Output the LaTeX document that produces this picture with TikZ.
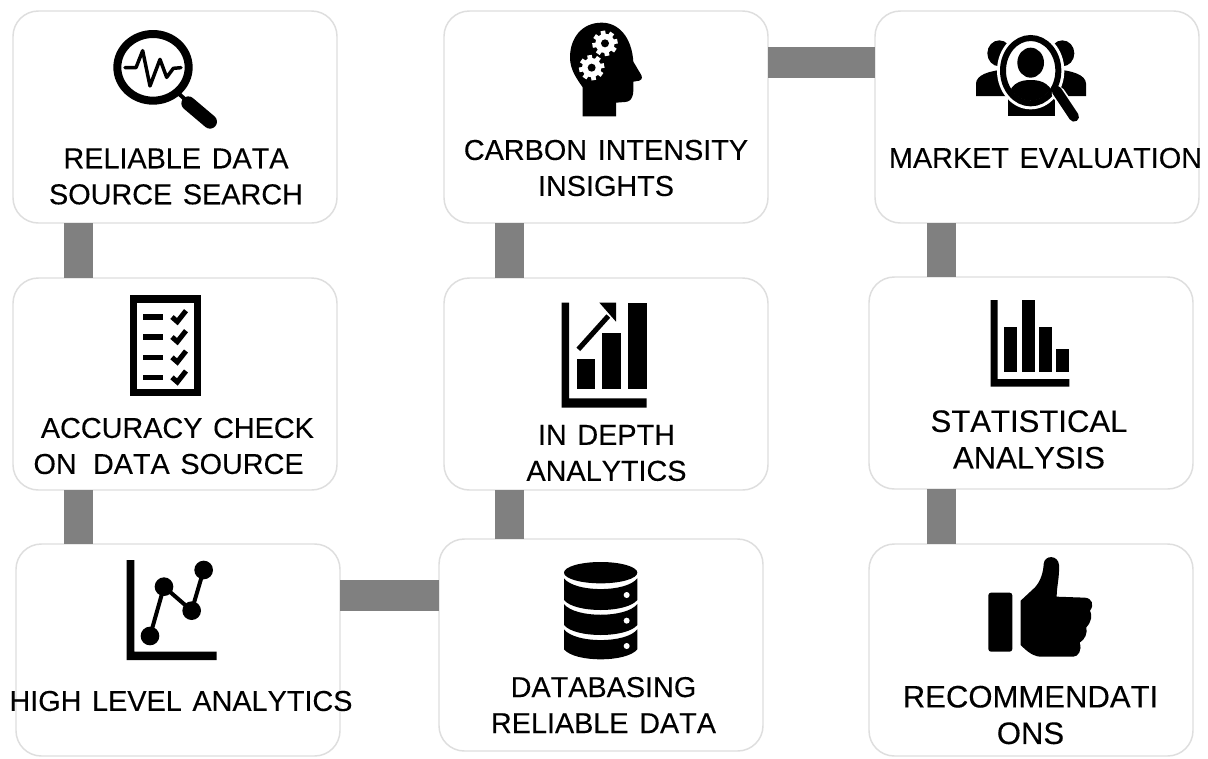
\documentclass[tikz,border=0pt]{standalone}
\usepackage{fontspec}
\setmainfont{Liberation Sans}
\newfontfamily\lblfam[Kerning=Off,FakeBold=0.2]{Liberation Sans}
\newcommand\lblfont{\lblfam\fontsize{21.6}{27}\selectfont\spaceskip=0.37em\relax}
\newcommand\lblbig{\lblfam\fontsize{23.3}{27.4}\selectfont\spaceskip=0.37em\relax}
\newcommand\gearicon[2]{%
  \foreach \a in {0,45,90,135} {\fill[white,rotate around={\a+10:(#1,#2)}] (#1-7,#2-38) rectangle (#1+7,#2+38);}
  \fill[white] (#1,#2) circle[radius=29];
  \fill[black] (#1,#2) circle[radius=12];}
\tikzset{
  box/.style={draw=boxline,line width=1.1pt,fill=white,rounded corners=19pt,minimum width=243pt,minimum height=159pt,inner sep=0pt,outer sep=0pt},
  lbl/.style={font=\lblfont,text=black,align=center,inner sep=0pt},
  lblb/.style={font=\lblbig,text=black,align=center,inner sep=0pt},
  conn/.style={draw=connc,line width=21.75pt,line cap=butt},
  connh/.style={draw=connc,line width=23.25pt,line cap=butt},
  icon/.style 2 args={shift={(#1,#2)},x=0.25pt,y=-0.25pt},
}
\definecolor{boxline}{HTML}{DEDEDE}
\definecolor{connc}{HTML}{808080}
\begin{document}
\begin{tikzpicture}[x=0.75pt,y=-0.75pt]
\useasboundingbox (0,0) rectangle (1208,758);
\fill[white] (0,0) rectangle (1208,758);
% boxes
\node[box] (a1) at (175,117) {};
\node[box] (a2) at (175,384) {};
\node[box] (a3) at (178,650) {};
\node[box] (b1) at (606,117) {};
\node[box] (b2) at (606,384) {};
\node[box] (b3) at (601,645) {};
\node[box] (c1) at (1037,117) {};
\node[box] (c2) at (1031,383) {};
\node[box] (c3) at (1031,650) {};
% connector guides
\coordinate (ca) at (78.5,0);
\coordinate (cb) at (509.5,0);
\coordinate (cc) at (941,0);
\coordinate (rlow) at (0,595.5);
\coordinate (rtop) at (0,62.5);
\draw[conn] (a1.south -| ca) -- (a2.north -| ca);
\draw[conn] (a2.south -| ca) -- (a3.north -| ca);
\draw[connh] (a3.east |- rlow) -- (b3.west |- rlow);
\draw[conn] (b3.north -| cb) -- (b2.south -| cb);
\draw[conn] (b2.north -| cb) -- (b1.south -| cb);
\draw[connh] (b1.east |- rtop) -- (c1.west |- rtop);
\draw[conn] (c1.south -| cc) -- (c2.north -| cc);
\draw[conn] (c2.south -| cc) -- (c3.north -| cc);
% labels
\node[lbl] (t1) at (176,176.5) {RELIABLE DATA\\SOURCE SEARCH};
\node[lbl] (t2) at (173,446) {ACCURACY CHECK\hspace*{-6.6pt}\\ON\hspace{12.2pt}DATA SOURCE\hspace*{6.6pt}};
\node[lbl] (t3) at (181,701) {HIGH LEVEL ANALYTICS};
\node[lbl] (t4) at (606,168) {CARBON INTENSITY\\INSIGHTS};
\node[lbl] (t5) at (606.5,453) {IN DEPTH\\ANALYTICS};
\node[lbl] (t6) at (603.5,705) {DATABASING\\RELIABLE DATA};
\node[lbl] (t7) at (1045.5,158) {MARKET EVALUATION};
\node[lblb] (t8) at (1029,439.5) {STATISTICAL\\ANALYSIS};
\node[lblb] (t9) at (1030.5,715) {RECOMMENDATI\\ONS};
% magnifier with pulse
\begin{scope}[icon={0}{0}]
\draw[line width=6pt] (459,202) ellipse[x radius=107,y radius=100];
\draw[line width=3pt,line cap=round,line join=round] (530,275) -- (570,312);
\draw[line width=10.5pt,line cap=round] (565,310) -- (630,365);
\draw[line width=2.6pt,line join=round,line cap=round] (375,203) -- (408,203) -- (428,152) -- (450,258) -- (480,178) -- (500,232) -- (520,205) -- (543,203);
\end{scope}
% head with gears
\begin{scope}[icon={430}{0}]
\fill (458,349) -- (558,349) -- (558,308) -- (585,306) .. controls (608,304) and (612,285) .. (610,245) -- (628,242) .. controls (638,238) and (637,230) .. (632,222) -- (610,185) .. controls (605,110) and (565,68) .. (515,68) .. controls (455,68) and (420,115) .. (420,172) .. controls (420,210) and (440,235) .. (458,262) -- cycle;
\gearicon{525}{130}
\gearicon{485}{203}
\end{scope}
% people with magnifier
\begin{scope}[icon={860}{0}]
\fill (418,160) ellipse[x radius=36,y radius=39];
\fill (607,160) ellipse[x radius=36,y radius=39];
\fill (348,288) -- (348,250) .. controls (350,225) and (385,212) .. (440,208) -- (440,288) -- cycle;
\fill (678,288) -- (678,250) .. controls (676,225) and (640,212) .. (585,208) -- (585,288) -- cycle;
\fill (443,348) -- (443,290) -- (585,290) -- (585,348) -- cycle;
\fill[white] (512,212) ellipse[x radius=101,y radius=116];
\draw[line width=4.5pt] (512,212) ellipse[x radius=83,y radius=98];
\fill (512,188) ellipse[x radius=40,y radius=45];
\begin{scope}
\clip (512,212) ellipse[x radius=76,y radius=90];
\fill (440,310) .. controls (445,250) and (480,240) .. (512,240) .. controls (545,240) and (580,250) .. (585,310) -- cycle;
\end{scope}
\draw[white,line width=10pt,line cap=round] (595,280) -- (640,345);
\draw[line width=7.5pt,line cap=round] (590,272) -- (642,350);
\end{scope}
% checklist
\begin{scope}[icon={100}{280}]
\draw[line width=5.4pt] (101,57) rectangle (293,338);
\foreach \yy in {111,171,232,292} {
  \draw[line width=3.8pt] (130,\yy) -- (190,\yy);
  \draw[line width=3.8pt] (216,\yy) -- (232,\yy+14) -- (258,\yy-19);
}
\end{scope}
% growth chart
\begin{scope}[icon={540}{290}]
\fill (65,38) -- (87,38) -- (87,325) -- (320,325) -- (320,353) -- (65,353) -- cycle;
\fill (110,208) rectangle (165,298);
\fill (187,128) rectangle (242,298);
\fill (265,38) rectangle (320,298);
\draw[line width=3.8pt] (115,178) -- (205,78);
\fill (178,38) -- (228,38) -- (228,95) -- cycle;
\end{scope}
% bar chart
\begin{scope}[icon={970}{290}]
\fill (62,30) -- (83,30) -- (83,267) -- (298,267) -- (298,290) -- (62,290) -- cycle;
\fill (103,110) rectangle (142,245);
\fill (155,30) rectangle (194,245);
\fill (207,110) rectangle (246,245);
\fill (259,176) rectangle (298,245);
\end{scope}
% line chart
\begin{scope}[icon={110}{550}]
\fill (50,30) -- (73,30) -- (73,305) -- (320,305) -- (320,330) -- (50,330) -- cycle;
\draw[line width=3pt,line join=round] (120,258) -- (162,110) -- (245,182) -- (281,60);
\foreach \px/\py in {120/258,162/110,245/182,281/60} {\fill (\px,\py) circle[radius=28];}
\end{scope}
% database
\begin{scope}[icon={545}{550}]
\fill (167,68) ellipse[x radius=110,y radius=32];
\fill (57,85) .. controls (90,128) and (244,128) .. (277,85) -- (277,150) .. controls (244,190) and (90,190) .. (57,150) -- cycle;
\fill (57,162) .. controls (90,205) and (244,205) .. (277,162) -- (277,225) .. controls (244,265) and (90,265) .. (57,225) -- cycle;
\fill (57,238) .. controls (90,281) and (244,281) .. (277,238) -- (277,298) .. controls (244,338) and (90,338) .. (57,298) -- cycle;
\foreach \dy in {135,212,288} {\fill[white] (245,\dy) circle[radius=9];}
\end{scope}
% thumb up
\begin{scope}[icon={975}{550}]
\fill[rounded corners=2pt] (40,128) rectangle (112,305);
\fill (137,152) -- (180,112) .. controls (198,92) and (205,65) .. (206,42) .. controls (208,14) and (250,14) .. (252,45) .. controls (254,80) and (245,110) .. (245,140) -- (330,143) .. controls (352,145) and (358,165) .. (345,182) .. controls (352,195) and (350,215) .. (334,232) .. controls (338,250) and (330,268) .. (314,278) .. controls (322,300) and (310,320) .. (295,320) -- (195,320) .. controls (170,318) and (150,298) .. (137,285) -- cycle;
\end{scope}
\end{tikzpicture}
\end{document}
